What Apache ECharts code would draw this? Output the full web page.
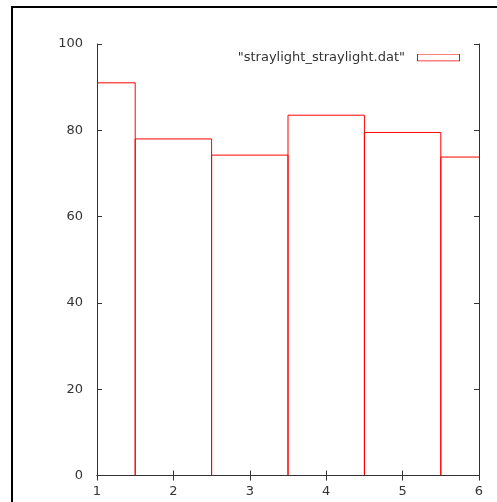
<!DOCTYPE html>
<html>
<head>
<meta charset="utf-8">
<script src="https://cdn.jsdelivr.net/npm/echarts@6/dist/echarts.min.js"></script>
<style>
  html, body { margin: 0; padding: 0; background: #fff; }
  #chart { width: 497px; height: 502px; }
</style>
</head>
<body>
<div id="chart"></div>
<script>
const seriesName = '"straylight_straylight.dat"'
const xValues = [1, 2, 3, 4, 5, 6]
const straylight = [91, 78, 74.25, 83.5, 79.5, 73.8]
const xTicks = [1, 2, 3, 4, 5, 6]
const yTicks = [0, 20, 40, 60, 80, 100]

const chart = echarts.init(document.getElementById('chart'))
const font = 'DejaVu Sans'
const axisColor = '#333'
const boxColor = '#ff0000'

// legend key: outlined box like gnuplot's
const keySvg = '<svg xmlns="http://www.w3.org/2000/svg" width="43" height="8">' +
  '<rect x="0.5" y="0.5" width="42" height="7" fill="none" stroke="#ff0000" stroke-width="1"/></svg>'
const keyIcon = 'image://data:image/svg+xml;charset=utf-8,' + encodeURIComponent(keySvg)

// gnuplot style boxes: width 1, centred on x, outline only
function renderBox(params, api) {
  const x = api.value(0)
  const y = api.value(1)
  const p0 = api.coord([x - 0.5, y])
  const p1 = api.coord([x + 0.5, 0])
  return {
    type: 'rect',
    shape: { x: p0[0], y: p0[1], width: p1[0] - p0[0], height: p1[1] - p0[1] },
    style: { fill: 'none', stroke: boxColor, lineWidth: 1 }
  }
}

const xBase = {
  type: 'value',
  z: 5,
  min: xTicks[0],
  max: xTicks[xTicks.length - 1],
  interval: 1,
  axisLine: { show: true, lineStyle: { color: axisColor, width: 1 } },
  axisTick: { show: true, inside: true, length: 5, lineStyle: { color: axisColor } },
  splitLine: { show: false }
}
const yBase = {
  type: 'value',
  z: 5,
  min: yTicks[0],
  max: yTicks[yTicks.length - 1],
  interval: 20,
  axisLine: { show: true, lineStyle: { color: axisColor, width: 1 } },
  axisTick: { show: true, inside: true, length: 5, lineStyle: { color: axisColor } },
  splitLine: { show: false }
}

chart.setOption({
  animation: false,
  backgroundColor: '#fff',
  color: [boxColor],
  textStyle: { fontFamily: font },
  graphic: [
    {
      type: 'rect',
      shape: { x: 12, y: 7, width: 600, height: 600 },
      style: { fill: 'none', stroke: '#000', lineWidth: 2 },
      silent: true
    }
  ],
  grid: { left: 97, right: 18, top: 44, bottom: 26.5, containLabel: false },
  legend: {
    right: 37,
    top: 51,
    padding: 0,
    align: 'right',
    itemWidth: 43,
    itemHeight: 8,
    icon: keyIcon,
    textStyle: { fontFamily: font, fontSize: 13, color: '#333', padding: [0, 7, 0, 0] },
    data: [seriesName]
  },
  xAxis: [
    Object.assign({}, xBase, {
      position: 'bottom',
      axisLabel: { fontFamily: font, fontSize: 13, color: '#333', margin: 10 }
    }),
    Object.assign({}, xBase, { position: 'top', axisLabel: { show: false } })
  ],
  yAxis: [
    Object.assign({}, yBase, {
      position: 'left',
      axisLabel: { fontFamily: font, fontSize: 13, color: '#333', margin: 14 }
    }),
    Object.assign({}, yBase, { position: 'right', axisLabel: { show: false } })
  ],
  series: [{
    name: seriesName,
    type: 'custom',
    z: 1,
    clip: true,
    renderItem: renderBox,
    encode: { x: 0, y: 1 },
    data: xValues.map((x, i) => [x, straylight[i]])
  }]
})
</script>
</body>
</html>
